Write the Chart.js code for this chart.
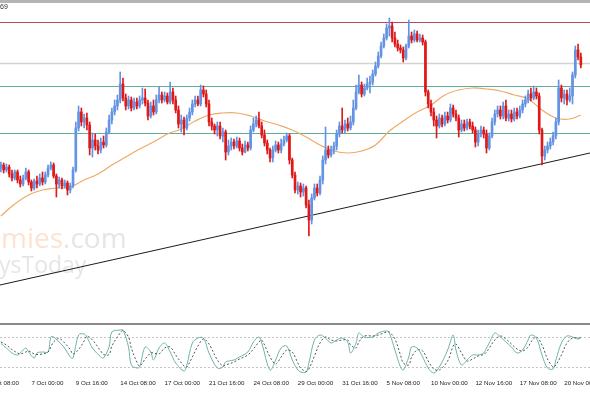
<!DOCTYPE html>
<html>
<head>
<meta charset="utf-8">
<script src="https://cdn.jsdelivr.net/npm/chart.js@4.4.1/dist/chart.umd.min.js"></script>
<style>
html, body { margin: 0; padding: 0; background: #fff; }
#wrap { position: relative; width: 590px; height: 393px; overflow: hidden; background: #fff; font-family: 'Liberation Sans', Arial, sans-serif; }
canvas { position: absolute; left: 0; }
#main { top: 0; }
#osc { top: 325px; }
#topband { position: absolute; left: 0; top: 0; width: 590px; height: 3px; background: #b4b4b4; }
#sep { position: absolute; left: 0; top: 323px; width: 590px; height: 2px; background: #8a8a8a; }
#info { position: absolute; left: 0; top: 3px; font-size: 7px; line-height: 8px; color: #333; }
</style>
</head>
<body>
<div id="wrap">
  <canvas id="main" width="590" height="323"></canvas>
  <canvas id="osc" width="590" height="68"></canvas>
  <div id="topband"></div>
  <div id="sep"></div>
  <div id="info">69</div>
</div>
<script>
// bar index of the first candle on screen (bar 0 = 2 Oct 08:00)
var firstBar = 5;

// H4 candles, price in points
var opens = [
  232,235,230,233,226,222,228,220,216,222, 228,218,212,219,216,222,218,225,232,235,
  224,216,220,214,217,210,214,230,272,288, 278,282,275,252,260,254,250,258,255,268,
  280,288,294,300,316,302,294,300,292,298, 294,300,302,297,284,294,288,300,305,300,
  304,298,308,300,290,276,280,272,282,288, 296,300,296,310,306,296,278,274,270,274,
  264,268,248,254,258,254,259,252,248,255, 252,270,276,280,274,265,257,250,242,250,
  255,250,256,260,264,240,225,210,214,208, 212,195,180,202,212,207,220,240,250,245,
  250,254,266,274,270,276,272,278,292,308, 315,306,312,316,318,326,334,344,354,362,
  372,374,362,356,352,350,342,354,364,360, 366,360,362,358,308,296,288,280,274,282,
  276,284,280,292,286,282,270,276,272,278, 274,270,258,266,270,266,252,264,278,286,
  290,284,294,282,286,281,288,284,290,296, 300,306,302,308,304,270,244,250,254,258,
  264,278,312,302,306,300,304,325,350,343
];
var closes = [
  235,230,233,226,222,228,220,216,222,228, 218,212,219,216,222,218,225,232,235,224,
  216,220,214,217,210,214,230,272,288,278, 282,275,252,260,254,250,258,255,268,280,
  288,294,300,316,302,294,300,292,298,294, 300,302,297,284,294,288,300,305,300,304,
  298,308,300,290,276,280,272,282,288,296, 300,296,310,306,296,278,274,270,274,264,
  268,248,254,258,254,259,252,248,255,252, 270,276,280,274,265,257,250,242,250,255,
  250,256,260,264,240,225,210,214,208,212, 195,180,202,212,207,220,240,250,245,250,
  254,266,274,270,276,272,278,292,308,315, 306,312,316,318,326,334,344,354,362,372,
  374,362,356,352,350,342,354,364,360,366, 360,362,358,308,296,288,280,274,282,276,
  284,280,292,286,282,270,276,272,278,274, 270,258,266,270,266,252,264,278,286,290,
  284,294,282,286,281,288,284,290,296,300, 306,302,308,304,270,244,250,254,258,264,
  278,312,302,306,300,304,325,350,343,335
];
var highs = [
  238,237,236,235,230,230,230,224,225,232, 230,220,221,224,226,228,228,235,238,237,
  226,223,222,220,219,217,233,278,294,292, 286,287,278,267,266,260,262,264,272,285,
  292,300,305,328,322,306,304,303,302,302, 304,312,311,300,298,300,305,313,308,308,
  307,318,312,304,294,285,283,285,292,300, 304,304,315,314,310,300,282,276,278,278,
  272,270,260,262,261,263,262,256,259,258, 274,282,284,288,278,270,260,252,254,259,
  258,261,264,267,266,242,228,218,217,216, 214,200,206,216,216,224,244,273,254,254,
  258,270,278,292,280,282,284,300,315,325, 318,316,322,324,330,338,348,358,366,376,
  382,378,368,360,355,353,356,380,368,370, 369,366,365,360,310,300,292,284,286,285,
  288,288,296,295,290,285,280,280,281,281, 278,273,270,274,273,270,267,282,290,294,
  294,298,300,290,290,292,292,294,300,304, 310,312,314,312,307,272,254,258,262,268,
  282,320,315,310,310,312,328,354,356,347
];
var lows = [
  228,227,228,223,219,220,217,213,214,220, 215,209,210,212,214,215,216,223,230,222,
  203,212,211,212,205,207,212,228,269,274, 272,270,245,243,250,246,247,252,253,266,
  276,285,290,297,299,290,291,289,290,291, 292,296,294,280,282,285,286,297,297,298,
  296,296,296,287,272,268,265,270,279,285, 293,294,294,303,293,274,270,266,264,261,
  258,240,245,250,251,252,249,245,247,249, 250,268,273,272,262,254,246,238,238,248,
  247,247,254,258,236,222,207,206,203,204, 192,164,176,200,204,205,216,236,242,243,
  246,250,263,267,267,269,270,275,290,306, 303,304,310,307,315,324,332,342,352,360,
  364,358,353,349,347,338,340,352,357,358, 358,358,355,304,292,284,274,262,272,273,
  274,277,278,283,279,263,268,269,270,271, 267,253,254,263,262,247,250,262,275,283,
  281,281,279,279,278,279,281,282,287,293, 297,299,300,301,266,235,240,247,251,255,
  261,275,298,296,295,298,296,322,340,332
];

// moving average read at sample bars
var maBars = [5,10,15,20,25,30,35,40,45,50,55,60,65,70,75,80,85,90,95,100,105,110,115,120,125,130,135,140,145,150,155,160,165,170,175,180,185,190,195,200,205,210,214];
var maVals = [184,196,205,210,212,213,220,226,235,243,251,258,266,271,279,285,287,287,284,279,275,270,263,255,249,247,249,255,269,279,288,295,305,310,312,311,309,305,301,290,282,281,285];

// horizontal levels and support trend line
var levelPrices = [378, 337, 314, 267];
var trendBars = [4.685, 217.3];
var trendPrices = [115, 247];

// stochastic oscillator
var stochBars = [5,7,9,11,12,14,15,17,18,20,22,23,24,26,28,30,31,33,35,36,38,41,42,44,45,48,49,51,52,54,55,57,59,60,62,64,66,68,71,72,74,76,78,80,83,85,86,89,91,94,96,98,99,102,104,106,108,110,112,113,115,116,118,120,122,124,126,128,130,131,133,134,136,139,141,144,145,147,149,150,152,153,155,157,159,161,163,166,168,169,171,173,175,177,179,180,181,183,185,187,189,191,193,195,196,198,200,202,204,205,207,209,211,213,214];
var stochK = [67,58,48,44,48,58,50,38,48,50,50,80,80,70,58,40,38,84,86,80,58,40,38,60,90,94,94,60,24,18,20,60,50,34,58,68,50,28,12,24,68,78,78,48,18,20,30,34,40,50,70,80,68,14,34,58,62,34,14,10,10,28,74,84,78,68,74,78,70,48,68,88,80,80,88,92,88,54,20,14,40,60,58,40,18,8,20,54,84,54,24,34,44,44,48,58,68,88,80,70,60,48,54,74,84,78,44,18,16,34,68,82,80,76,80];
var stochD = [70,64,55,48,46,50,52,46,45,46,50,60,70,77,68,55,46,55,72,82,74,52,45,45,62,88,93,80,58,30,22,36,48,48,46,58,60,44,22,20,40,62,76,66,34,22,24,30,36,44,56,70,74,40,26,40,54,50,28,18,11,16,42,68,80,74,72,74,74,64,58,70,82,82,84,90,90,76,44,28,24,40,54,52,32,16,14,32,62,66,48,32,36,42,45,50,58,74,82,76,66,56,52,60,70,80,64,36,20,24,44,68,78,78,78];
var stochLevels = [80, 20];

// time axis labels, one every 16 bars
var tickBars = [0,16,32,48,64,80,96,112,128,144,160,176,192,208];
var tickLabels = ['2 Oct 08:00','7 Oct 00:00','9 Oct 16:00','14 Oct 08:00','17 Oct 00:00','21 Oct 16:00','24 Oct 08:00','29 Oct 00:00','31 Oct 16:00','5 Nov 08:00','10 Nov 00:00','12 Nov 16:00','17 Nov 08:00','20 Nov 00:00'];

var XMIN = 4.685, XMAX = 217.3;
var BULL = '#6393e2', BEAR = '#e01818';

var barIdx = opens.map(function(o, i){ return firstBar + i; });
var bodies = barIdx.map(function(b, i){ return { x: b, y: [opens[i], closes[i]] }; });
var wicks = barIdx.map(function(b, i){ return { x: b, y: [lows[i], highs[i]] }; });
var candleColor = function(c){ return closes[c.dataIndex] >= opens[c.dataIndex] ? BULL : BEAR; };

var hLevels = {
  id: 'hLevels',
  beforeDatasetsDraw: function(chart, args, opts) {
    var ctx = chart.ctx, a = chart.chartArea, y = chart.scales.y;
    ctx.save();
    opts.values.forEach(function(v, i){
      var st = opts.styles[i];
      var py = Math.round(y.getPixelForValue(v)) + 0.5;
      ctx.strokeStyle = st.color;
      ctx.lineWidth = st.width;
      ctx.setLineDash(st.dash || []);
      ctx.beginPath(); ctx.moveTo(a.left, py); ctx.lineTo(a.right, py); ctx.stroke();
    });
    ctx.restore();
  }
};

var watermark = {
  id: 'watermark',
  beforeDatasetsDraw: function(chart) {
    var ctx = chart.ctx;
    ctx.save();
    ctx.font = '28px "Open Sans"';
    ctx.textBaseline = 'alphabetic';
    var pre = ctx.measureText('econo').width;
    var x0 = 1 - pre;
    ctx.fillStyle = 'rgba(244,160,100,0.3)';
    ctx.fillText('economies', x0, 248);
    var w = ctx.measureText('economies').width;
    ctx.fillStyle = 'rgba(170,170,170,0.3)';
    ctx.fillText('.com', x0 + w, 248);
    ctx.font = '23px "Open Sans"';
    ctx.fillText('ysToday', -1, 273);
    ctx.restore();
  }
};

new Chart(document.getElementById('main'), {
  type: 'bar',
  data: {
    datasets: [
      { type: 'bar', data: bodies, backgroundColor: candleColor, borderWidth: 0, barThickness: 2, minBarLength: 1, grouped: false, order: 0 },
      { type: 'bar', data: wicks, backgroundColor: candleColor, borderWidth: 0, barThickness: 1, minBarLength: 1, grouped: false, order: 1 },
      { type: 'line', data: maBars.map(function(b, i){ return { x: b, y: maVals[i] }; }), borderColor: '#eeaa66', borderWidth: 1.2, pointRadius: 0, tension: 0.4, order: 2 },
      { type: 'line', data: trendBars.map(function(b, i){ return { x: b, y: trendPrices[i] }; }), borderColor: '#1c1c1c', borderWidth: 1, pointRadius: 0, order: 3 }
    ]
  },
  options: {
    responsive: false,
    animation: false,
    layout: { padding: 0 },
    plugins: {
      legend: { display: false },
      tooltip: { enabled: false },
      hLevels: {
        values: levelPrices,
        styles: [
          { color: '#b24a58', width: 1 },
          { color: '#d2d2d2', width: 1.5 },
          { color: '#5fae9e', width: 1 },
          { color: '#5fae9e', width: 1 }
        ]
      }
    },
    scales: {
      x: { type: 'linear', min: XMIN, max: XMAX, offset: false, display: false },
      y: { type: 'linear', min: 77, max: 400, display: false }
    }
  },
  plugins: [hLevels, watermark]
});

new Chart(document.getElementById('osc'), {
  type: 'line',
  data: {
    datasets: [
      { data: stochBars.map(function(b, i){ return { x: b, y: stochD[i] }; }), borderColor: '#555', borderWidth: 1, borderDash: [2, 2], pointRadius: 0, tension: 0.35 },
      { data: stochBars.map(function(b, i){ return { x: b, y: stochK[i] }; }), borderColor: '#6fb3aa', borderWidth: 1, pointRadius: 0, tension: 0.35 }
    ]
  },
  options: {
    responsive: false,
    animation: false,
    layout: { padding: { top: 2, left: 0, right: 0, bottom: 0 } },
    plugins: {
      legend: { display: false },
      tooltip: { enabled: false },
      hLevels: {
        values: stochLevels,
        styles: [
          { color: '#c4c4c4', width: 1, dash: [2, 2] },
          { color: '#c4c4c4', width: 1, dash: [2, 2] }
        ]
      }
    },
    scales: {
      x: {
        type: 'linear', min: XMIN, max: XMAX, offset: false,
        afterBuildTicks: function(a){ a.ticks = tickBars.map(function(v){ return { value: v }; }); },
        afterFit: function(a){ a.height = 16; a.paddingLeft = 0; a.paddingRight = 0; },
        grid: { display: false, drawTicks: false },
        border: { display: false },
        ticks: {
          align: 'start', autoSkip: false, maxRotation: 0, padding: 3, color: '#222',
          font: { family: 'Liberation Sans', size: 6.2 },
          callback: function(v, i){ return tickLabels[i]; }
        }
      },
      y: { type: 'linear', min: 0, max: 100, display: false }
    }
  },
  plugins: [hLevels]
});
</script>
</body>
</html>
